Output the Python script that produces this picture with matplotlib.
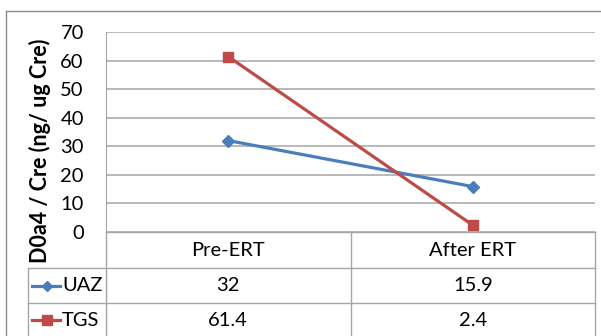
import matplotlib
matplotlib.use("Agg")
import matplotlib.pyplot as plt
from matplotlib.lines import Line2D
import matplotlib.transforms as mtrans

categories = ["Pre-ERT", "After ERT"]
series_names = ["UAZ", "TGS"]
uaz = [32, 15.9]
tgs = [61.4, 2.4]
uaz_labels = ["32", "15.9"]
tgs_labels = ["61.4", "2.4"]
yticks = [0, 10, 20, 30, 40, 50, 60, 70]
ylabel = "D0a4 / Cre (ng/ ug Cre)"

plt.rcParams['font.family'] = ['Lato', 'DejaVu Sans']

W, H = 601, 336
fig = plt.figure(figsize=(W / 100, H / 100), dpi=100)

def fx(px):
    return px / W

def fy(py):
    return 1 - py / H

FS = 14.5
L, R, T, B = 106, 595, 32, 232
ax = fig.add_axes([fx(L), fy(B), fx(R) - fx(L), fy(T) - fy(B)])
ax.set_xlim(-0.5, 1.5)
ax.set_ylim(0, 70)
ax.set_yticks(yticks)
ax.set_xticks([])
ax.tick_params(axis='y', length=0, pad=16, labelsize=FS, labelcolor='black')
for s in ['top', 'right', 'bottom']:
    ax.spines[s].set_visible(False)
ax.spines['left'].set_color('#a6a6a6')
ax.grid(axis='y', color='#a6a6a6', linewidth=1.1)
ax.set_axisbelow(True)

blue = '#4a7ebb'
red = '#be4b48'
x = list(range(len(categories)))
ax.plot(x, uaz, color=blue, lw=2.3, marker='D', ms=6.5, mfc=blue, mec=blue, clip_on=False, zorder=3)
ax.plot(x, tgs, color=red, lw=2.3, marker='s', ms=7.5, mfc=red, mec=red, clip_on=False, zorder=4)

# y label
fig.text(fx(40), fy(151), ylabel, rotation=90, ha='center', va='center',
         fontsize=15.5, fontweight='bold')

# outer border
border_col = '#8c8c8c'
fig.add_artist(Line2D([fx(6), fx(6)], [fy(11), 0], color=border_col, lw=1.0))
fig.add_artist(Line2D([fx(6), 1], [fy(11), fy(11)], color=border_col, lw=1.0))

# table grid
tcol = '#a6a6a6'
def hline(y, x0, x1):
    fig.add_artist(Line2D([fx(x0), fx(x1)], [fy(y), fy(y)], color=tcol, lw=1.0))
def vline(xp, y0, y1):
    fig.add_artist(Line2D([fx(xp), fx(xp)], [fy(y0), fy(y1)], color=tcol, lw=1.0))

hline(232, L, R)
hline(268, 28, R)
hline(303, 28, R)
vline(28, 268, H)
vline(L, B, H)
vline((L + R) / 2 + 0.5, B, H)
vline(R, B, H)

# table text (x via data coords)
trans = mtrans.blended_transform_factory(ax.transData, fig.transFigure)
row_y = [fy(250), fy(285.5), fy(320)]
for i, c in enumerate(categories):
    ax.text(i, row_y[0], c, transform=trans, ha='center', va='center', fontsize=FS, clip_on=False)
    ax.text(i, row_y[1], uaz_labels[i], transform=trans, ha='center', va='center', fontsize=FS, clip_on=False)
    ax.text(i, row_y[2], tgs_labels[i], transform=trans, ha='center', va='center', fontsize=FS, clip_on=False)

# legend keys
for name, col, mk, ms, ry in [(series_names[0], blue, 'D', 5.5, row_y[1]), (series_names[1], red, 's', 6.5, row_y[2])]:
    fig.add_artist(Line2D([fx(32), fx(60)], [ry, ry], color=col, lw=2.3))
    fig.add_artist(Line2D([fx(47)], [ry], color=col, marker=mk, ms=ms, mfc=col, mec=col))
    fig.text(fx(62), ry, name, ha='left', va='center', fontsize=FS)

fig.savefig("out.png", dpi=100)
